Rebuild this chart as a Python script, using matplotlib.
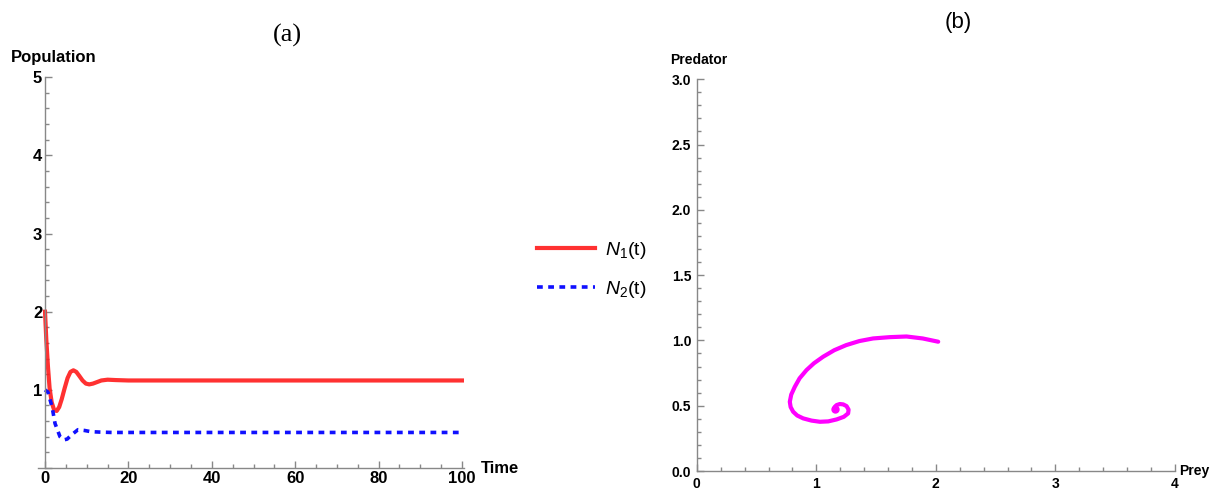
import numpy as np
import matplotlib
matplotlib.use('Agg')
import matplotlib.pyplot as plt
from matplotlib.ticker import MultipleLocator, FormatStrFormatter, FuncFormatter

plt.rcParams['font.family'] = ['Liberation Sans Narrow', 'Liberation Sans', 'DejaVu Sans']
plt.rcParams['mathtext.fontset'] = 'custom'
plt.rcParams['mathtext.it'] = 'Liberation Sans:italic'
plt.rcParams['mathtext.rm'] = 'Liberation Sans'

# (a) time series
t_n1 = [0, 0.3, 0.7, 1.1, 1.6, 2.2, 2.8, 3.4, 4.0, 4.7, 5.4, 6.1, 6.8, 7.5, 8.2,
        9.0, 9.8, 10.6, 11.5, 12.5, 13.5, 15, 17, 20, 30, 50, 70, 100]
n1 = [2.0, 1.65, 1.3, 1.02, 0.84, 0.74, 0.73, 0.78, 0.88, 1.02, 1.15, 1.23, 1.25,
      1.23, 1.18, 1.12, 1.08, 1.07, 1.08, 1.10, 1.12, 1.13, 1.125, 1.12, 1.12,
      1.12, 1.12, 1.12]
t_n2 = [0, 0.7, 1.7, 2.4, 3.6, 4.5, 5.3, 6.5, 7.9, 9.5, 11, 13, 16, 20, 40, 60, 80, 100]
n2 = [1.0, 0.97, 0.78, 0.57, 0.40, 0.36, 0.37, 0.43, 0.49, 0.48, 0.465, 0.46,
      0.455, 0.455, 0.455, 0.455, 0.455, 0.455]

# (b) phase portrait (prey, predator)
prey = [2.02, 1.89, 1.755, 1.615, 1.475, 1.36, 1.25, 1.15, 1.057, 0.98, 0.918, 0.86,
        0.82, 0.79, 0.778, 0.785, 0.806, 0.84, 0.89, 0.96, 1.03, 1.10, 1.17, 1.23,
        1.266, 1.27, 1.253, 1.225, 1.197, 1.17, 1.155, 1.15, 1.155]
pred = [0.99, 1.015, 1.03, 1.025, 1.015, 0.995, 0.964, 0.925, 0.875, 0.825, 0.773,
        0.71, 0.645, 0.585, 0.53, 0.49, 0.454, 0.425, 0.403, 0.386, 0.377, 0.38,
        0.395, 0.415, 0.441, 0.47, 0.497, 0.51, 0.513, 0.505, 0.492, 0.48, 0.472]

fig = plt.figure(figsize=(12.14, 4.91), dpi=100)
grey = '#888888'


def style(ax, size):
    for s in ['top', 'right']:
        ax.spines[s].set_visible(False)
    for s in ['left', 'bottom']:
        ax.spines[s].set_color(grey)
        ax.spines[s].set_linewidth(1.0)
    ax.tick_params(which='major', direction='in', length=5, width=1, color=grey,
                   labelsize=size, pad=2)
    ax.tick_params(which='minor', direction='in', length=3, width=1, color=grey)
    for lab in ax.get_xticklabels() + ax.get_yticklabels():
        lab.set_fontweight('bold')


# 子图a
ax1 = fig.add_axes([0.0309, 0.0468, 0.3514, 0.796])
ax1.plot(t_n1, n1, color='#ff1a1a', lw=3.0, alpha=0.9, solid_joinstyle='round',
         label=r'$\mathit{N}_1$(t)')
ax1.plot(t_n2, n2, color='#1010ff', lw=2.6, dashes=(1.6, 1.5),
         dash_capstyle='butt', label=r'$\mathit{N}_2$(t)')
ax1.set_xlim(-1.8, 100.5)
ax1.set_ylim(0, 5)
ax1.spines['left'].set_position(('data', 0))
ax1.xaxis.set_major_locator(MultipleLocator(20))
ax1.xaxis.set_minor_locator(MultipleLocator(5))
ax1.yaxis.set_major_locator(MultipleLocator(1))
ax1.yaxis.set_minor_locator(MultipleLocator(0.2))
ax1.yaxis.set_major_formatter(FuncFormatter(lambda v, p: '' if v == 0 else f'{v:.0f}'))
style(ax1, 12)
ax1.text(-0.062, 1.05, 'Population', transform=ax1.transAxes, fontsize=12,
         fontweight='bold', ha='left', va='center')
ax1.text(1.04, 0.0, 'Time', transform=ax1.transAxes, fontsize=12,
         fontweight='bold', ha='left', va='center')
leg = ax1.legend(loc='center left', bbox_to_anchor=(0.428, 0.45),
                 bbox_transform=fig.transFigure, frameon=False, fontsize=14,
                 handlelength=3.0, handletextpad=0.5, labelspacing=0.9)
fig.text(0.2365, 0.928, '(a)', fontsize=19, family='Liberation Serif',
         ha='center', va='center')

# 子图b
ax2 = fig.add_axes([0.574, 0.0407, 0.3937, 0.798])
ax2.plot(prey, pred, color='#ff00ff', lw=3.0, solid_capstyle='round',
         solid_joinstyle='round')
ax2.plot([prey[-1]], [pred[-1]], 'o', color='#ff00ff', ms=5)
ax2.set_xlim(0, 4)
ax2.set_ylim(0, 3)
ax2.xaxis.set_major_locator(MultipleLocator(1))
ax2.xaxis.set_minor_locator(MultipleLocator(0.2))
ax2.yaxis.set_major_locator(MultipleLocator(0.5))
ax2.yaxis.set_minor_locator(MultipleLocator(0.1))
ax2.yaxis.set_major_formatter(FormatStrFormatter('%.1f'))
style(ax2, 10)
ax2.tick_params(axis='x', which='major', pad=4)
ax2.tick_params(axis='y', which='major', pad=4)
ax2.text(-0.055, 1.05, 'Predator', transform=ax2.transAxes, fontsize=10,
         fontweight='bold', ha='left', va='center')
ax2.text(1.01, 0.0, 'Prey', transform=ax2.transAxes, fontsize=10,
         fontweight='bold', ha='left', va='center')
fig.text(0.789, 0.955, '(b)', fontsize=16, family='Liberation Sans',
         ha='center', va='center')

plt.savefig('out.png', dpi=100)
